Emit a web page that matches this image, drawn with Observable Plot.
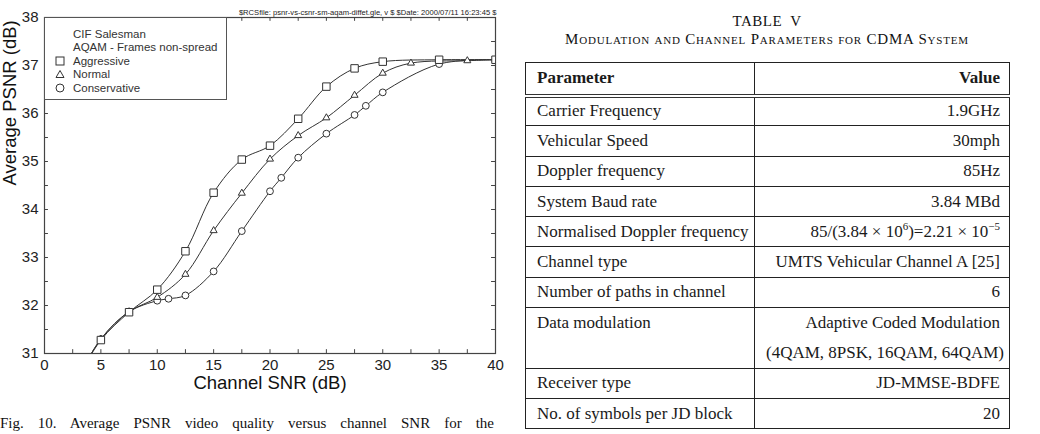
<!DOCTYPE html>
<html>
<head>
<meta charset="utf-8">
<script src="https://cdn.jsdelivr.net/npm/d3@7"></script>
<script src="https://cdn.jsdelivr.net/npm/@observablehq/plot@0.6"></script>
<style>
  html, body { margin: 0; padding: 0; background: #fff; }
  #page { position: relative; width: 1040px; height: 434px; overflow: hidden; background: #fff; }
  #chart { position: absolute; left: 0; top: 0; }
  #legend {
    position: absolute; left: 44px; top: 17px; width: 181px; height: 81px;
    border: 1px solid #555; background: #fff;
    font-family: "Liberation Sans", Arial, sans-serif; font-size: 11.5px; color: #333;
    box-sizing: content-box;
  }
  #legend .row { position: absolute; left: 28px; white-space: nowrap; line-height: 14px; }
  #legend svg { position: absolute; left: -18px; top: 2px; overflow: visible; }
  #caption {
    position: absolute; left: 0; top: 416px; width: 494px;
    font-family: "Liberation Serif", "Times New Roman", serif; font-size: 15px; line-height: 15px;
    color: #111; text-align: justify; text-align-last: justify;
  }
  #tabletitle {
    position: absolute; left: 525px; width: 484px; top: 12px; text-align: center;
    font-family: "Liberation Serif", "Times New Roman", serif; color: #111;
  }
  #tabletitle .num { font-size: 15px; line-height: 18px; word-spacing: 4px; letter-spacing: 0.5px; }
  #tabletitle .sub { font-size: 15px; line-height: 18px; font-variant: small-caps; letter-spacing: 0.8px; margin-top: 0; }
  #params {
    position: absolute; left: 525px; top: 62px; width: 484px;
    border-collapse: collapse; table-layout: fixed;
    font-family: "Liberation Serif", "Times New Roman", serif; font-size: 17px; color: #1a1a1a;
  }
  #params td, #params th {
    border: 1.3px solid #222; padding: 0 9px 0 11px; box-sizing: border-box;
    white-space: nowrap; vertical-align: middle;
  }
  #params td { height: 30.3px; }
  #params th { font-weight: bold; height: 33px; }
  #params thead tr th { border-bottom: 4px double #333; }
  #params td.v, #params th.v { text-align: right; }
  #params td.p, #params th.p { text-align: left; }
  #params tr.cont td { border-top: none; }
  #params tr.open td { border-bottom: none; }
</style>
</head>
<body>
<div id="page">
  <div id="chart"></div>
  <div id="legend"></div>
  <div id="tabletitle"></div>
  <table id="params"></table>
  <div id="caption"></div>
</div>
<script>
// PSNR versus channel SNR for the three AQAM switching regimes (values in dB).
// The first point of each series lies below the axis and only shapes the curve's entry.
const snrAggressive = [2.5, 5, 7.5, 10, 12.5, 15, 17.5, 20, 22.5, 25, 27.5, 30, 35, 40];
const psnrAggressive = [30.3, 31.28, 31.86, 32.33, 33.13, 34.35, 35.04, 35.33, 35.89, 36.56, 36.94, 37.08, 37.12, 37.12];

const snrNormal = [2.5, 5, 7.5, 10, 12.5, 15, 17.5, 20, 22.5, 25, 27.5, 30, 32.5, 37.5, 40];
const psnrNormal = [30.3, 31.3, 31.87, 32.17, 32.65, 33.56, 34.34, 35.05, 35.54, 35.91, 36.38, 36.84, 37.05, 37.1, 37.12];

const snrConservative = [2.5, 5, 7.5, 10, 11, 12.5, 15, 17.5, 20, 21, 22.5, 25, 27.5, 28.5, 30, 35, 40];
const psnrConservative = [30.3, 31.3, 31.87, 32.1, 32.14, 32.21, 32.71, 33.55, 34.38, 34.66, 35.08, 35.58, 35.97, 36.16, 36.44, 37.03, 37.12];

const seriesNames = ["Aggressive", "Normal", "Conservative"];
const seriesSymbols = ["square", "triangle", "circle"];

const xDomain = [0, 40];
const yDomain = [31, 38];
const xTickLabels = [0, 5, 10, 15, 20, 25, 30, 35, 40];
const yTickLabels = [31, 32, 33, 34, 35, 36, 37, 38];
const xTickMarks = [2.5, 5, 7.5, 10, 12.5, 15, 17.5, 20, 22.5, 25, 27.5, 30, 32.5, 35, 37.5];
const yTickMarks = [31.5, 32, 32.5, 33, 33.5, 34, 34.5, 35, 35.5, 36, 36.5, 37, 37.5];

const legendTitle = ["CIF Salesman", "AQAM - Frames non-spread"];
const rcsStamp = "$RCSfile: psnr-vs-csnr-sm-aqam-diffet.gle, v $ $Date: 2000/07/11 16:23:45 $";
const xLabel = "Channel SNR (dB)";
const yLabel = "Average PSNR (dB)";
const captionText = "Fig. 10. Average PSNR video quality versus channel SNR for the";

// Table of CDMA system parameters
const tableNumber = "TABLE V";
const tableTitle = "Modulation and Channel Parameters for CDMA System";
const tableHeader = ["Parameter", "Value"];
const paramNames = ["Carrier Frequency", "Vehicular Speed", "Doppler frequency", "System Baud rate",
  "Normalised Doppler frequency", "Channel type", "Number of paths in channel", "Data modulation", "",
  "Receiver type", "No. of symbols per JD block"];
const paramValues = ["1.9GHz", "30mph", "85Hz", "3.84 MBd",
  "85/(3.84 × 10<sup>6</sup>)=2.21 × 10<sup>−5</sup>", "UMTS Vehicular Channel A [25]", "6",
  "Adaptive Coded Modulation", "(4QAM, 8PSK, 16QAM, 64QAM)", "JD-MMSE-BDFE", "20"];

const rows = [];
const addSeries = (name, symbol, xs, ys) => xs.forEach((x, i) => rows.push({series: name, symbol, snr: x, psnr: ys[i]}));
addSeries(seriesNames[0], seriesSymbols[0], snrAggressive, psnrAggressive);
addSeries(seriesNames[1], seriesSymbols[1], snrNormal, psnrNormal);
addSeries(seriesNames[2], seriesSymbols[2], snrConservative, psnrConservative);
const drawOrder = [seriesNames[2], seriesNames[1], seriesNames[0]];
const bySeries = name => rows.filter(d => d.series === name);

const ink = "#333";
const tickLenX = 0.35;  // in SNR units
const tickLenY = 0.08;  // in PSNR units

const dotRadius = {square: 4.2, triangle: 2.6, circle: 3.4};

const chart = Plot.plot({
  width: 510,
  height: 400,
  marginLeft: 44,
  marginRight: 15,
  marginTop: 17,
  marginBottom: 47,
  x: {domain: xDomain},
  y: {domain: yDomain},
  style: {fontFamily: "'Liberation Sans', Arial, sans-serif", fontSize: "15px", color: "#222", background: "transparent"},
  marks: [
    Plot.frame({stroke: "#444", strokeWidth: 1.2}),
    // inward tick marks on all four sides
    Plot.ruleX(xTickMarks, {x: d => d, y1: yDomain[0], y2: yDomain[0] + tickLenY, stroke: "#444"}),
    Plot.ruleX(xTickMarks, {x: d => d, y1: yDomain[1], y2: yDomain[1] - tickLenY, stroke: "#444"}),
    Plot.ruleY(yTickMarks, {y: d => d, x1: xDomain[0], x2: xDomain[0] + tickLenX, stroke: "#444"}),
    Plot.ruleY(yTickMarks, {y: d => d, x1: xDomain[1], x2: xDomain[1] - tickLenX, stroke: "#444"}),
    Plot.axisX({ticks: xTickLabels, tickFormat: d => String(d), tickSize: 0, tickPadding: 6, label: null, fontSize: 15}),
    Plot.axisY({ticks: yTickLabels, tickFormat: d => String(d), tickSize: 0, tickPadding: 6, label: null, fontSize: 15}),
    Plot.text([xLabel], {frameAnchor: "bottom", dy: 35, fontSize: 18.5, fill: "#111"}),
    Plot.text([yLabel], {frameAnchor: "left", dx: -34, rotate: -90, fontSize: 18.5, fill: "#111"}),
    Plot.text([rcsStamp], {frameAnchor: "top-right", textAnchor: "end", lineAnchor: "bottom", dy: -3, dx: 1,
      fontSize: 7.6, fontFamily: "'Liberation Sans Narrow', 'Liberation Sans', sans-serif", fill: "#222"}),
    ...drawOrder.map(name => Plot.line(bySeries(name), {x: "snr", y: "psnr", curve: "catmull-rom", stroke: ink, strokeWidth: 1, clip: true})),
    ...drawOrder.map(name => Plot.dot(bySeries(name), {
      x: "snr", y: "psnr", symbol: "symbol", r: dotRadius[bySeries(name)[0].symbol],
      fill: "white", stroke: ink, strokeWidth: 1, clip: true
    }))
  ]
});
document.getElementById("chart").append(chart);

// Legend box
const legend = document.getElementById("legend");
const symbolSvg = {
  square: '<svg width="10" height="10"><rect x="1" y="1" width="8" height="8" fill="none" stroke="#333"/></svg>',
  triangle: '<svg width="10" height="10"><path d="M5,1.5L9,8.5L1,8.5Z" fill="none" stroke="#333"/></svg>',
  circle: '<svg width="10" height="10"><circle cx="5" cy="5" r="4" fill="none" stroke="#333"/></svg>'
};
const legendLines = [...legendTitle.map(t => ({text: t})), ...seriesNames.map((s, i) => ({text: s, symbol: seriesSymbols[i]}))];
legendLines.forEach((l, i) => {
  const div = document.createElement("div");
  div.className = "row";
  div.style.top = (8.5 + i * 13.6) + "px";
  div.innerHTML = (l.symbol ? symbolSvg[l.symbol] : "") + l.text;
  legend.append(div);
});

// Table heading and body
document.getElementById("tabletitle").innerHTML =
  `<div class="num">${tableNumber}</div><div class="sub">${tableTitle}</div>`;
const table = document.getElementById("params");
let html = `<colgroup><col style="width:229px"><col style="width:255px"></colgroup>`;
html += `<thead><tr><th class="p">${tableHeader[0]}</th><th class="v">${tableHeader[1]}</th></tr></thead><tbody>`;
paramNames.forEach((name, i) => {
  let cls = "";
  if (paramNames[i + 1] === "") cls = "open";
  if (name === "") cls = "cont";
  html += `<tr class="${cls}"><td class="p">${name}</td><td class="v">${paramValues[i]}</td></tr>`;
});
html += `</tbody>`;
table.innerHTML = html;
table.querySelectorAll("sup").forEach(s => { s.style.fontSize = "11px"; s.style.lineHeight = "0"; });

document.getElementById("caption").textContent = captionText;
</script>
</body>
</html>
